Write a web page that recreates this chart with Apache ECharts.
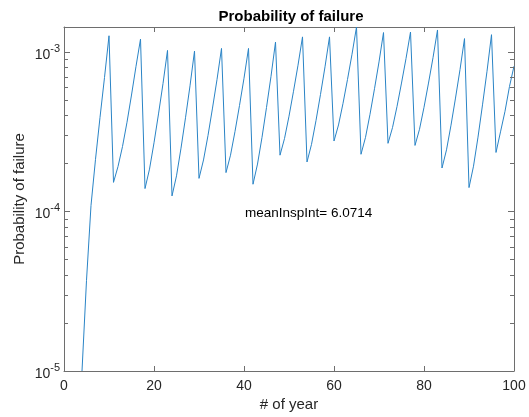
<!DOCTYPE html>
<html>
<head>
<meta charset="utf-8">
<script src="https://cdn.jsdelivr.net/npm/echarts@6/dist/echarts.min.js"></script>
<style>
  html, body { margin: 0; padding: 0; background: #fff; }
  #chart { width: 529px; height: 417px; }
</style>
</head>
<body>
<div id="chart"></div>
<script>
// ---- data ----
const years = [
  4, 5, 6, 7, 8, 9, 10,
  11, 12, 13, 14, 15, 16, 17, 18, 19, 20,
  21, 22, 23, 24, 25, 26, 27, 28, 29, 30,
  31, 32, 33, 34, 35, 36, 37, 38, 39, 40,
  41, 42, 43, 44, 45, 46, 47, 48, 49, 50,
  51, 52, 53, 54, 55, 56, 57, 58, 59, 60,
  61, 62, 63, 64, 65, 66, 67, 68, 69, 70,
  71, 72, 73, 74, 75, 76, 77, 78, 79, 80,
  81, 82, 83, 84, 85, 86, 87, 88, 89, 90,
  91, 92, 93, 94, 95, 96, 97, 98, 99, 100
];
const probFailure = [
  1.0e-5, 3.7e-5, 1.09e-4, 2.12e-4, 3.88e-4, 6.9e-4, 1.26e-3,
  1.52e-4, 1.91e-4, 2.55e-4, 3.62e-4, 5.36e-4, 8.11e-4, 1.20e-3, 1.39e-4, 1.84e-4, 2.69e-4,
  4.08e-4, 6.32e-4, 1.02e-3, 1.25e-4, 1.67e-4, 2.49e-4, 3.86e-4, 6.12e-4, 1.01e-3, 1.61e-4,
  2.10e-4, 2.99e-4, 4.44e-4, 6.70e-4, 1.05e-3, 1.75e-4, 2.25e-4, 3.17e-4, 4.61e-4, 6.83e-4,
  1.05e-3, 1.48e-4, 1.98e-4, 2.91e-4, 4.48e-4, 7.02e-4, 1.15e-3, 2.25e-4, 2.86e-4, 3.95e-4,
  5.66e-4, 8.24e-4, 1.24e-3, 2.04e-4, 2.63e-4, 3.71e-4, 5.41e-4, 8.05e-4, 1.24e-3, 2.76e-4,
  3.48e-4, 4.75e-4, 6.71e-4, 9.65e-4, 1.43e-3, 2.28e-4, 2.91e-4, 4.06e-4, 5.87e-4, 8.64e-4,
  1.32e-3, 2.67e-4, 3.35e-4, 4.54e-4, 6.37e-4, 9.07e-4, 1.33e-3, 2.59e-4, 3.27e-4, 4.49e-4,
  6.37e-4, 9.18e-4, 1.37e-3, 1.87e-4, 2.43e-4, 3.47e-4, 5.13e-4, 7.73e-4, 1.21e-3, 1.41e-4,
  1.92e-4, 2.92e-4, 4.65e-4, 7.55e-4, 1.28e-3, 2.34e-4, 3.15e-4, 4.24e-4, 6.07e-4, 8.13e-4
];
const xTicks = [0, 20, 40, 60, 80, 100];
const yMin = 1e-5;
const yMax = 1.43e-3;
const yMinorTicks = [
  2e-5, 3e-5, 4e-5, 5e-5, 6e-5, 7e-5, 8e-5, 9e-5,
  2e-4, 3e-4, 4e-4, 5e-4, 6e-4, 7e-4, 8e-4, 9e-4
];
const annotationText = 'meanInspInt= 6.0714';
const annotationAt = [40, 1e-4];
const titleText = 'Probability of failure';
const xName = '# of year';
const yName = 'Probability of failure';

// ---- chart ----
const FONT = '"Liberation Sans", Arial, Helvetica, sans-serif';
const AXIS_COLOR = '#6e6e6e';
const TEXT_COLOR = '#262626';
const chart = echarts.init(document.getElementById('chart'), null, { renderer: 'canvas' });

const lineData = years.map((y, i) => [y, probFailure[i]]);

function expLabel(v) {
  const e = Math.round(Math.log10(v));
  return '{b|10}{s|' + e + '}';
}

const option = {
  animation: false,
  backgroundColor: '#ffffff',
  textStyle: { fontFamily: FONT },
  title: {
    text: titleText,
    left: 286,
    top: 4,
    textAlign: 'center',
    textStyle: { fontFamily: FONT, fontSize: 15, fontWeight: 'bold', color: '#000' }
  },
  grid: { left: 64, right: 15, top: 27, bottom: 45, containLabel: false },
  xAxis: [
    {
      type: 'value', min: xTicks[0], max: xTicks[xTicks.length - 1], interval: 20,
      position: 'bottom',
      name: xName, nameLocation: 'middle', nameGap: 26, nameMoveOverlap: false,
      nameTextStyle: { fontFamily: FONT, fontSize: 15, color: TEXT_COLOR },
      axisLine: { show: true, onZero: false, lineStyle: { color: AXIS_COLOR, width: 1 } },
      axisTick: { show: true, inside: true, length: 5, lineStyle: { color: AXIS_COLOR } },
      axisLabel: { show: true, margin: 8, fontFamily: FONT, fontSize: 14, color: TEXT_COLOR },
      splitLine: { show: false }
    },
    {
      type: 'value', min: xTicks[0], max: xTicks[xTicks.length - 1], interval: 20,
      position: 'top',
      axisLine: { show: true, onZero: false, lineStyle: { color: AXIS_COLOR, width: 1 } },
      axisTick: { show: true, inside: true, length: 5, lineStyle: { color: AXIS_COLOR } },
      axisLabel: { show: false },
      splitLine: { show: false }
    }
  ],
  yAxis: [
    {
      type: 'log', logBase: 10, min: yMin, max: yMax,
      position: 'left',
      name: yName, nameLocation: 'middle', nameGap: 37, nameMoveOverlap: false,
      nameTextStyle: { fontFamily: FONT, fontSize: 15, color: TEXT_COLOR },
      axisLine: { show: true, onZero: false, lineStyle: { color: AXIS_COLOR, width: 1 } },
      axisTick: { show: true, inside: true, length: 6, lineStyle: { color: AXIS_COLOR } },
      axisLabel: {
        show: true, margin: 4, showMaxLabel: false,
        formatter: expLabel,
        rich: {
          b: { fontFamily: FONT, fontSize: 14, color: TEXT_COLOR, padding: [6, 0, 0, 0] },
          s: { fontFamily: FONT, fontSize: 11, color: TEXT_COLOR, padding: [0, 0, 6, 0] }
        }
      },
      splitLine: { show: false },
      minorTick: { show: false }
    },
    {
      type: 'log', logBase: 10, min: yMin, max: yMax,
      position: 'right',
      axisLine: { show: true, onZero: false, lineStyle: { color: AXIS_COLOR, width: 1 } },
      axisTick: { show: true, inside: true, length: 6, lineStyle: { color: AXIS_COLOR } },
      axisLabel: { show: false },
      splitLine: { show: false }
    }
  ],
  series: [
    {
      type: 'line',
      xAxisIndex: 0, yAxisIndex: 0,
      data: lineData,
      showSymbol: false,
      symbol: 'none',
      clip: true,
      z: 3,
      lineStyle: { color: '#2a84c6', width: 1 },
      itemStyle: { color: '#2a84c6' },
      markPoint: {
        symbol: 'circle', symbolSize: 0,
        silent: true,
        data: [{
          coord: annotationAt,
          value: annotationText,
          label: {
            show: true, position: 'right', distance: 1, offset: [0, 2],
            formatter: annotationText,
            fontFamily: FONT, fontSize: 13.5, color: '#000'
          }
        }]
      }
    },
    {
      type: 'custom',
      coordinateSystem: 'cartesian2d',
      xAxisIndex: 0, yAxisIndex: 0,
      silent: true,
      clip: false,
      z: 5,
      data: yMinorTicks.map(v => [xTicks[0], v]),
      encode: { x: 0, y: 1 },
      renderItem: function (params, api) {
        const v = yMinorTicks[params.dataIndex];
        const pL = api.coord([xTicks[0], v]);
        const pR = api.coord([xTicks[xTicks.length - 1], v]);
        const yy = Math.round(pL[1]) + 0.5;
        return {
          type: 'group',
          children: [
            { type: 'line', shape: { x1: pL[0], y1: yy, x2: pL[0] + 4, y2: yy },
              style: { stroke: AXIS_COLOR, lineWidth: 1, fill: null } },
            { type: 'line', shape: { x1: pR[0], y1: yy, x2: pR[0] - 4, y2: yy },
              style: { stroke: AXIS_COLOR, lineWidth: 1, fill: null } }
          ]
        };
      }
    }
  ]
};
chart.setOption(option);
</script>
</body>
</html>
